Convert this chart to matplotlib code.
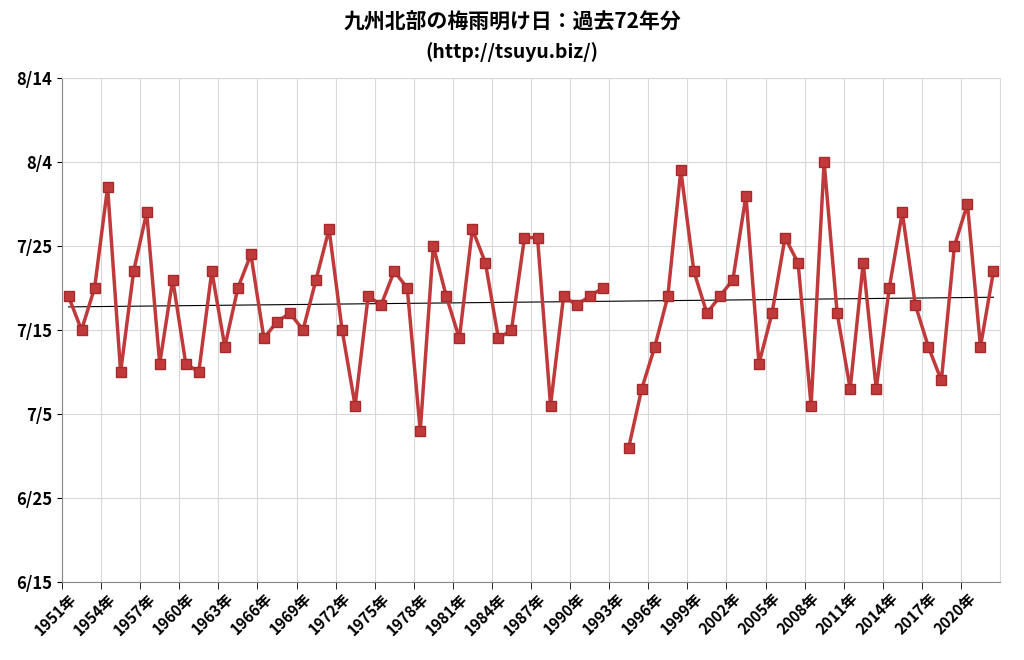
import numpy as np
import matplotlib.pyplot as plt
import datetime as dt

plt.rcParams['font.family'] = ['Noto Sans CJK JP']

years = list(range(1951, 2023))
end_dates = [
    "7/19", "7/15", "7/20", "8/1", "7/10", "7/22", "7/29", "7/11", "7/21", "7/11",
    "7/10", "7/22", "7/13", "7/20", "7/24", "7/14", "7/16", "7/17", "7/15", "7/21",
    "7/27", "7/15", "7/6", "7/19", "7/18", "7/22", "7/20", "7/3", "7/25", "7/19",
    "7/14", "7/27", "7/23", "7/14", "7/15", "7/26", "7/26", "7/6", "7/19", "7/18",
    "7/19", "7/20", None, "7/1", "7/8", "7/13", "7/19", "8/3", "7/22", "7/17",
    "7/19", "7/21", "7/31", "7/11", "7/17", "7/26", "7/23", "7/6", "8/4", "7/17",
    "7/8", "7/23", "7/8", "7/20", "7/29", "7/18", "7/13", "7/9", "7/25", "7/30",
    "7/13", "7/22",
]
y_ticks = ["6/15", "6/25", "7/5", "7/15", "7/25", "8/4", "8/14"]


def to_day(s):
    if s is None:
        return np.nan
    m, d = map(int, s.split('/'))
    return (dt.date(2001, m, d) - dt.date(2001, 6, 15)).days


x = np.array(years, dtype=float)
y = np.array([to_day(s) for s in end_dates])

fig = plt.figure(figsize=(10.24, 6.6), dpi=100)
ax = fig.add_axes([62 / 1024, 1 - 582 / 660, 938 / 1024, 504 / 660])

ax.plot(x, y, '-', color='#C0393B', lw=2.5, marker='s', ms=7,
        markerfacecolor='#C0393B', markeredgecolor='#A52A2A', zorder=3)

ok = ~np.isnan(y)
k, b = np.polyfit(x[ok], y[ok], 1)
ax.plot([x[0], x[-1]], [k * x[0] + b, k * x[-1] + b], color='black', lw=0.8, zorder=2)

ax.set_xlim(1950.5, 2022.5)
ax.set_ylim(0, 60)
ax.set_yticks([to_day(t) for t in y_ticks])
ax.set_yticklabels(y_ticks, fontsize=12, fontweight='bold')
xt = years[::3]
ax.set_xticks(xt)
ax.set_xticklabels([f"{v}年" for v in xt], rotation=45, ha='right',
                   rotation_mode='anchor', fontsize=11, fontweight='bold')
ax.set_xticks([v - 0.5 for v in xt], minor=True)
ax.tick_params(axis='x', which='major', length=0, pad=6)
ax.tick_params(axis='x', which='minor', length=5)
ax.grid(axis='y', color='#D9D9D9', lw=0.8)
ax.grid(axis='x', which='minor', color='#D9D9D9', lw=0.8)
for s in ['top', 'right']:
    ax.spines[s].set_color('#D9D9D9')
for s in ['left', 'bottom']:
    ax.spines[s].set_color('#888888')

fig.text(0.5, 1 - 22 / 660, "九州北部の梅雨明け日：過去72年分", ha='center', va='center',
         fontsize=15, fontweight='bold')
fig.text(0.5, 1 - 52 / 660, "(http://tsuyu.biz/)", ha='center', va='center',
         fontsize=14, fontweight='bold')

fig.savefig("out.png", dpi=100)
